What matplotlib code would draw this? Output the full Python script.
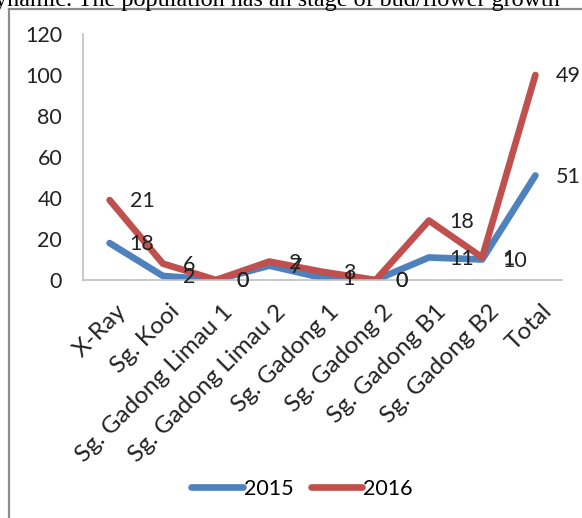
import matplotlib
matplotlib.use("Agg")
import matplotlib.pyplot as plt
import matplotlib.transforms as mtransforms
from matplotlib.lines import Line2D
import numpy as np

sites = ['X-Ray', 'Sg. Kooi', 'Sg. Gadong Limau 1', 'Sg. Gadong Limau 2',
         'Sg. Gadong 1', 'Sg. Gadong 2', 'Sg. Gadong B1', 'Sg. Gadong B2', 'Total']
y2015 = [18, 2, 0, 7, 1, 0, 11, 10, 51]
y2016 = [21, 6, 0, 2, 3, 0, 18, 1, 49]
yticks = [0, 20, 40, 60, 80, 100, 120]

blue = '#4F81BD'
red = '#C0504D'
fs = 15.5
plt.rcParams['font.family'] = ['Lato', 'DejaVu Sans']

fig = plt.figure(figsize=(5.82, 5.18), dpi=100)
ax = fig.add_axes([83/582, 1 - 280/518, 479/582, 246/518])

x = np.arange(len(sites))
s2015 = np.array(y2015)
s2016 = s2015 + np.array(y2016)   # stacked line
ax.plot(x, s2015, color=blue, lw=4.8, solid_capstyle='round', solid_joinstyle='round', label='2015')
ax.plot(x, s2016, color=red, lw=4.8, solid_capstyle='round', solid_joinstyle='round', label='2016')

for xi, v, lab in zip(x, s2015, y2015):
    ax.annotate(str(lab), (xi, v), xytext=(14.5, -1), textcoords='offset points',
                ha='left', va='center', fontsize=fs, color='#222222')
for xi, v, lab in zip(x, s2016, y2016):
    ax.annotate(str(lab), (xi, v), xytext=(14.5, -1), textcoords='offset points',
                ha='left', va='center', fontsize=fs, color='#222222')

ax.set_xlim(-0.5, len(sites) - 0.5)
ax.set_ylim(0, 120)
ax.set_yticks(yticks)
ax.set_xticks(x)
ax.set_xticklabels(sites, rotation=45, ha='right', va='top', rotation_mode='anchor')
ax.tick_params(axis='both', length=0, labelsize=fs, colors='#222222')
ax.tick_params(axis='x', labelsize=17.5, pad=15)
ax.tick_params(axis='y', pad=15)
shift = mtransforms.ScaledTranslation(6/100, 0, fig.dpi_scale_trans)
for lbl in ax.get_xticklabels():
    lbl.set_transform(lbl.get_transform() + shift)
for s in ['top', 'right']:
    ax.spines[s].set_visible(False)
for s in ['left', 'bottom']:
    ax.spines[s].set_color('#BFBFBF')
    ax.spines[s].set_linewidth(1.2)

fig.legend(loc='center', bbox_to_anchor=(0.519, 0.056), ncol=2, frameon=False,
           fontsize=fs, handlelength=2.4, handletextpad=0.05, columnspacing=0.8)

# outer frame of the chart
fig.add_artist(Line2D([9/582, 9/582], [0, 1 - 9/518], color='#8C8C8C', lw=1.6))
fig.add_artist(Line2D([9/582, 1], [1 - 9/518, 1 - 9/518], color='#8C8C8C', lw=1.6))
# clipped text from the page above
fig.text(-0.008, 1 - 6/518, 'ynamic. The population has an stage of bud/flower growth',
         family='Liberation Serif', fontsize=17.4, va='baseline', ha='left')

fig.savefig('out.png', dpi=100)
